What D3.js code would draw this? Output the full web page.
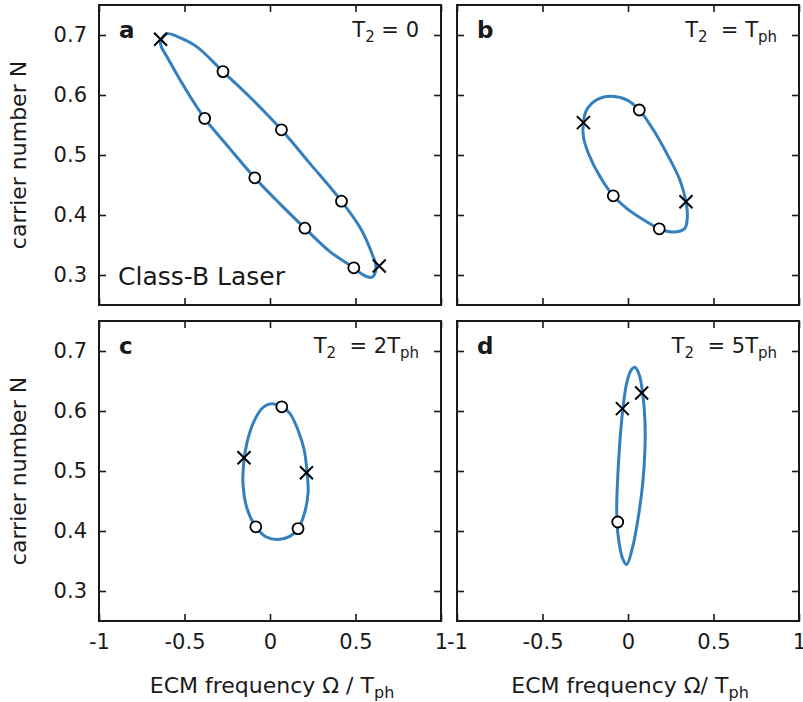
<!DOCTYPE html>
<html>
<head>
<meta charset="utf-8">
<script src="https://cdn.jsdelivr.net/npm/d3@7"></script>
<style>
  html, body { margin: 0; padding: 0; background: #fff; }
  svg { display: block; font-family: "DejaVu Sans", sans-serif; }
</style>
</head>
<body>
<svg id="chart" width="803" height="702"></svg>
<script>
// Axis ticks shared by all panels
const xTicks = [-1, -0.5, 0, 0.5, 1];
const xTickLabels = ["-1", "-0.5", "0", "0.5", "1"];
const yTicks = [0.3, 0.4, 0.5, 0.6, 0.7];
const yTickLabels = ["0.3", "0.4", "0.5", "0.6", "0.7"];

// Panel identifiers and the T2 annotation (main text, subscript, rest, subscript)
const panelIds = ["a", "b", "c", "d"];
const panelTitles = [
  ["T", "2", " = 0", ""],
  ["T", "2", "  = T", "ph"],
  ["T", "2", "  = 2T", "ph"],
  ["T", "2", "  = 5T", "ph"]
];

// Closed trajectories in the (Ω, N) plane: [Ω/Tph, N]
const orbitA = [
  [-0.640, 0.689], [-0.603, 0.702], [-0.538, 0.697], [-0.431, 0.681], [-0.275, 0.639],
  [-0.119, 0.597], [0.067, 0.542], [0.233, 0.486], [0.418, 0.423], [0.535, 0.375],
  [0.600, 0.333], [0.619, 0.316], [0.610, 0.300], [0.590, 0.296], [0.540, 0.301],
  [0.490, 0.312], [0.350, 0.339], [0.204, 0.378], [0.057, 0.419], [-0.089, 0.462],
  [-0.236, 0.511], [-0.382, 0.561], [-0.509, 0.617], [-0.597, 0.661], [-0.636, 0.681]
];
const orbitB = [
  [-0.261, 0.554], [-0.242, 0.575], [-0.183, 0.592], [-0.105, 0.598], [-0.008, 0.592],
  [0.066, 0.575], [0.148, 0.542], [0.226, 0.503], [0.304, 0.458], [0.339, 0.422],
  [0.347, 0.397], [0.333, 0.378], [0.285, 0.372], [0.226, 0.373], [0.183, 0.377],
  [0.090, 0.392], [-0.008, 0.411], [-0.086, 0.432], [-0.164, 0.464], [-0.232, 0.503],
  [-0.261, 0.531]
];
const orbitC = [
  [0.008, 0.612], [0.069, 0.607], [0.116, 0.596], [0.164, 0.568], [0.200, 0.535],
  [0.217, 0.497], [0.223, 0.465], [0.204, 0.432], [0.164, 0.404], [0.116, 0.391],
  [0.047, 0.386], [-0.021, 0.390], [-0.083, 0.407], [-0.134, 0.437], [-0.158, 0.479],
  [-0.154, 0.512], [-0.134, 0.548], [-0.095, 0.582], [-0.044, 0.605]
];
const orbitD = [
  [0.041, 0.673], [0.066, 0.660], [0.086, 0.629], [0.099, 0.585], [0.099, 0.535],
  [0.086, 0.479], [0.060, 0.423], [0.027, 0.373], [-0.008, 0.344], [-0.031, 0.354],
  [-0.057, 0.390], [-0.066, 0.434], [-0.060, 0.490], [-0.047, 0.551], [-0.031, 0.601],
  [-0.008, 0.646], [0.018, 0.668]
];
const orbits = [orbitA, orbitB, orbitC, orbitD];

// Open-circle markers on each trajectory
const circlesA = [[-0.275, 0.639], [-0.382, 0.561], [0.067, 0.542], [-0.089, 0.462],
                  [0.418, 0.423], [0.204, 0.378], [0.490, 0.312]];
const circlesB = [[0.066, 0.575], [-0.086, 0.432], [0.183, 0.377]];
const circlesC = [[0.069, 0.607], [-0.083, 0.407], [0.164, 0.404]];
const circlesD = [[-0.060, 0.415]];
const circleSets = [circlesA, circlesB, circlesC, circlesD];

// Cross markers on each trajectory
const crossesA = [[-0.640, 0.693], [0.639, 0.315]];
const crossesB = [[-0.261, 0.554], [0.339, 0.422]];
const crossesC = [[-0.152, 0.522], [0.213, 0.497]];
const crossesD = [[-0.033, 0.604], [0.080, 0.630]];
const crossSets = [crossesA, crossesB, crossesC, crossesD];

const xLabels = [["ECM frequency Ω / T", "ph"], ["ECM frequency Ω/ T", "ph"]];
const yLabel = "carrier number N";
const insetText = "Class-B Laser";

// Layout
const svg = d3.select("#chart");
const panelW = 342, panelH = 300;
const origins = [[99, 5], [457, 5], [99, 321], [457, 321]];
const lineColor = "#3480be";
const ink = "#1a1a1a";
const tickLen = 7;

const x = d3.scaleLinear().domain([-1, 1]).range([0, panelW]);
const y = d3.scaleLinear().domain([0.25, 0.75]).range([panelH, 0]);

const orbitLine = d3.line()
  .x(d => x(d[0])).y(d => y(d[1]))
  .curve(d3.curveCatmullRomClosed.alpha(0.5));

origins.forEach((o, i) => {
  const g = svg.append("g").attr("transform", `translate(${o[0]},${o[1]})`);
  const isLeft = i % 2 === 0;
  const isBottom = i >= 2;

  // trajectory
  g.append("path")
    .attr("d", orbitLine(orbits[i]))
    .attr("fill", "none")
    .attr("stroke", lineColor)
    .attr("stroke-width", 3);

  // circle markers
  g.selectAll("circle.m").data(circleSets[i]).join("circle")
    .attr("class", "m")
    .attr("cx", d => x(d[0])).attr("cy", d => y(d[1]))
    .attr("r", 5.5)
    .attr("fill", "#fff").attr("stroke", "#000").attr("stroke-width", 1.8);

  // cross markers
  const s = 6.5;
  const cr = g.selectAll("g.cross").data(crossSets[i]).join("g")
    .attr("class", "cross")
    .attr("transform", d => `translate(${x(d[0])},${y(d[1])})`);
  cr.append("path")
    .attr("d", `M${-s},${-s}L${s},${s}M${-s},${s}L${s},${-s}`)
    .attr("stroke", "#000").attr("stroke-width", 2).attr("fill", "none");

  // axes with inward ticks on every side
  const axB = d3.axisBottom(x).tickValues(xTicks).tickSize(-tickLen).tickPadding(13)
    .tickFormat((d, k) => isBottom ? xTickLabels[k] : "");
  const axT = d3.axisTop(x).tickValues(xTicks).tickSize(-tickLen).tickFormat("");
  const axL = d3.axisLeft(y).tickValues(yTicks).tickSize(-tickLen).tickPadding(12)
    .tickFormat((d, k) => isLeft ? yTickLabels[k] : "");
  const axR = d3.axisRight(y).tickValues(yTicks).tickSize(-tickLen).tickFormat("");

  const gB = g.append("g").attr("transform", `translate(0,${panelH})`).call(axB);
  const gT = g.append("g").call(axT);
  const gL = g.append("g").call(axL);
  const gR = g.append("g").attr("transform", `translate(${panelW},0)`).call(axR);
  [gB, gT, gL, gR].forEach(a => {
    a.select(".domain").remove();
    a.selectAll(".tick line").attr("stroke", ink).attr("stroke-width", 1.6);
    a.selectAll(".tick text").attr("fill", ink).attr("font-size", 21)
      .attr("font-family", "DejaVu Sans");
  });

  // frame
  g.append("rect")
    .attr("x", 0).attr("y", 0).attr("width", panelW).attr("height", panelH)
    .attr("fill", "none").attr("stroke", ink).attr("stroke-width", 2);

  // panel letter
  g.append("text")
    .attr("x", 20).attr("y", 33)
    .attr("font-size", 23).attr("font-weight", "bold").attr("fill", ink)
    .text(panelIds[i]);

  // T2 annotation
  const t = panelTitles[i];
  const tt = g.append("text")
    .attr("x", panelW - 22).attr("y", 32)
    .attr("text-anchor", "end").attr("font-size", 21).attr("fill", ink)
    .style("white-space", "pre");
  tt.append("tspan").text(t[0]);
  tt.append("tspan").attr("font-size", 15).attr("dy", 5).text(t[1]);
  tt.append("tspan").attr("dy", -5).text(t[2]);
  if (t[3]) tt.append("tspan").attr("font-size", 15).attr("dy", 5).text(t[3]);

  if (i === 0) {
    g.append("text")
      .attr("x", 19).attr("y", 280)
      .attr("font-size", 25).attr("fill", ink)
      .text(insetText);
  }

  if (isLeft) {
    g.append("text")
      .attr("transform", `translate(-73,${panelH / 2}) rotate(-90)`)
      .attr("text-anchor", "middle").attr("font-size", 22).attr("fill", ink)
      .text(yLabel);
  }

  if (isBottom) {
    const xl = xLabels[isLeft ? 0 : 1];
    const lt = g.append("text")
      .attr("x", panelW / 2 + 2).attr("y", panelH + 72)
      .attr("text-anchor", "middle").attr("font-size", 22).attr("fill", ink)
      .style("white-space", "pre");
    lt.append("tspan").text(xl[0]);
    lt.append("tspan").attr("font-size", 16).attr("dy", 5).text(xl[1]);
  }
});
</script>
</body>
</html>
